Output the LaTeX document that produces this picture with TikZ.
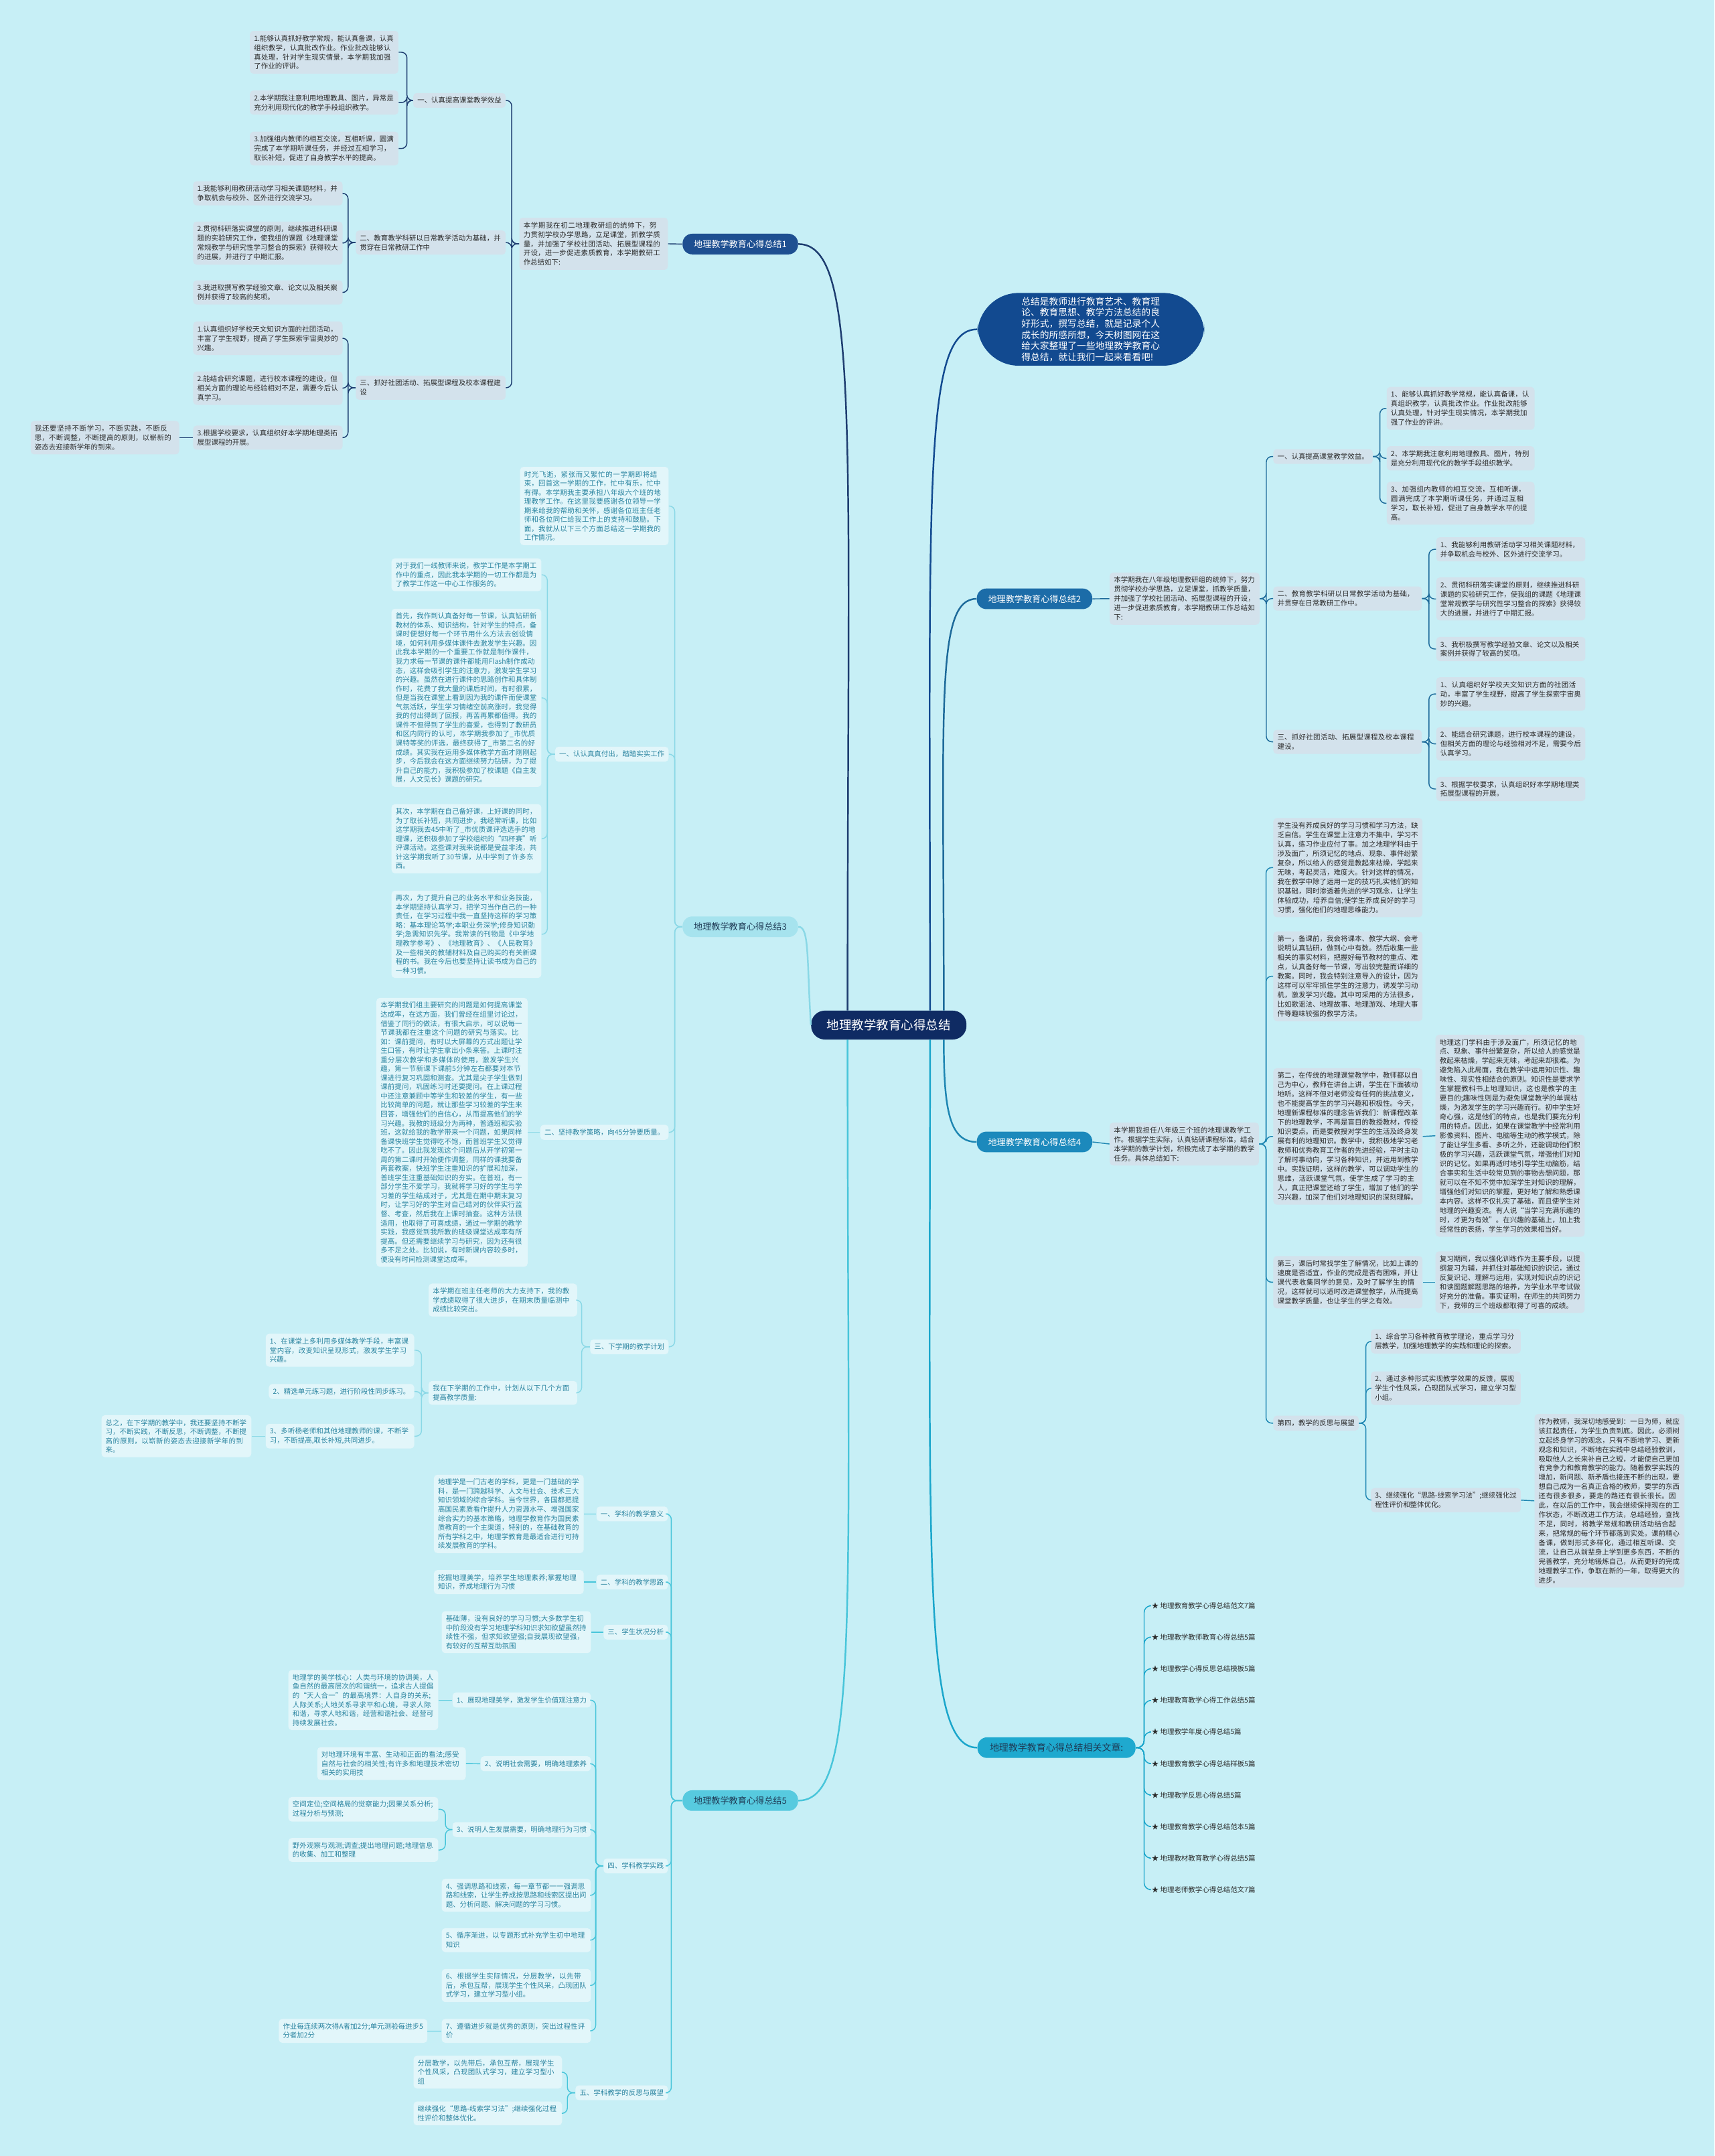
\documentclass[tikz,border=0pt]{standalone}
\usepackage{fontspec}
\setmainfont{Noto Sans CJK SC}
\XeTeXlinebreaklocale "zh"
\XeTeXlinebreakskip=0pt plus 0.6pt
\definecolor{BgCyan}{HTML}{C7EFF6}
\definecolor{RootNavy}{HTML}{0F2B63}
\definecolor{SumBlue}{HTML}{124A90}
\definecolor{LineA}{HTML}{1E3D70}
\definecolor{LineB}{HTML}{1D6A9A}
\definecolor{LineC}{HTML}{8AD8E6}
\definecolor{LineD}{HTML}{1E86B2}
\definecolor{LineE}{HTML}{48C5DA}
\definecolor{LineF}{HTML}{1AA6CB}
\definecolor{TopA}{HTML}{1E4F91}
\definecolor{TopB}{HTML}{1C6CA8}
\definecolor{TopC}{HTML}{A6E3EE}
\definecolor{TopD}{HTML}{1C89BC}
\definecolor{TopE}{HTML}{57CADF}
\definecolor{TopF}{HTML}{1FA9CF}
\definecolor{BoxGray}{HTML}{D3E2EC}
\definecolor{BoxLite}{HTML}{E2F6FA}
\definecolor{TxtDark}{HTML}{2B2B2B}
\definecolor{TxtTeal}{HTML}{2A84A0}
\definecolor{TxtNavy}{HTML}{1E3A55}
\usetikzlibrary{positioning}
\tikzset{
  gbox/.style={fill=BoxGray, text=TxtDark, rounded corners=2.5pt, inner sep=3pt, align=left, font=\fontsize{5.1}{6.8}\selectfont},
  lbox/.style={fill=BoxLite, text=TxtTeal, rounded corners=2.5pt, inner sep=3pt, align=left, font=\fontsize{5.1}{6.6}\selectfont},
  topic/.style={rounded corners=7pt, minimum width=84pt, minimum height=15pt, inner sep=2pt, font=\fontsize{6.4}{7.5}\selectfont},
  relitem/.style={text=TxtDark, inner sep=1.5pt, font=\fontsize{5.1}{6}\selectfont},
  lkA/.style={draw=LineA, line width=0.7pt, rounded corners=4pt},
  lkB/.style={draw=LineB, line width=0.7pt, rounded corners=4pt},
  lkC/.style={draw=LineC, line width=0.7pt, rounded corners=4pt},
  lkD/.style={draw=LineD, line width=0.7pt, rounded corners=4pt},
  lkE/.style={draw=LineE, line width=0.7pt, rounded corners=4pt},
  lkF/.style={draw=LineF, line width=0.7pt, rounded corners=5pt},
  trunk/.style={line width=1.2pt},
}
\begin{document}
\begin{tikzpicture}[x=1pt, y=-1pt]
  \useasboundingbox (0,0) rectangle (1247,1568);
  \fill[BgCyan] (0,0) rectangle (1247,1568);

  \node[fill=RootNavy, text=white, rounded corners=10pt, minimum width=113pt, minimum height=21pt, font=\fontsize{9}{10}\selectfont] (root) at (646.5,745.5) {地理教学教育心得总结};

  \node[fill=SumBlue, text=white, rounded corners=30pt, text width=101pt, align=left, inner xsep=32pt, inner ysep=3pt, font=\fontsize{6.7}{8.1}\selectfont] (summ) at (793.5,239.5) {总结是教师进行教育艺术、教育理论、教育思想、教学方法总结的良好形式，撰写总结，就是记录个人成长的所感所想，今天树图网在这给大家整理了一些地理教学教育心得总结，就让我们一起来看看吧!};

  \node[topic, fill=TopA, text=white] (b1) at (538.5,177.5) {地理教学教育心得总结1};
  \node[topic, fill=TopB, text=white] (b2) at (752.5,435.5) {地理教学教育心得总结2};
  \node[topic, fill=TopC, text=TxtNavy] (b3) at (538.5,674) {地理教学教育心得总结3};
  \node[topic, fill=TopD, text=white] (b4) at (752.5,830.5) {地理教学教育心得总结4};
  \node[topic, fill=TopE, text=TxtNavy] (b5) at (538.5,1309.5) {地理教学教育心得总结5};
  \node[topic, fill=TopF, text=TxtNavy, minimum width=115pt, font=\fontsize{6.8}{8}\selectfont] (brel) at (768.5,1271) {地理教学教育心得总结相关文章:};

  % branch 1
  \node[gbox, text width=102pt, anchor=east] (p1) at (486,177.3) {本学期我在初二地理教研组的统帅下，努力贯彻学校办学思路，立足课堂，抓教学质量，并加强了学校社团活动、拓展型课程的开设，进一步促进素质教育，本学期教研工作总结如下:};
  \node[gbox, anchor=east] (s11) at (368,73) {一、认真提高课堂教学效益};
  \node[gbox, text width=103pt, anchor=east] (s12) at (368,176.4) {二、教育教学科研以日常教学活动为基础，并贯穿在日常教研工作中};
  \node[gbox, text width=103pt, anchor=east] (s13) at (368,282) {三、抓好社团活动、拓展型课程及校本课程建设};
  \node[gbox, text width=102pt, anchor=east] (a111) at (290,38) {1.能够认真抓好教学常规，能认真备课，认真组织教学，认真批改作业。作业批改能够认真处理，针对学生现实情景，本学期我加强了作业的评讲。};
  \node[gbox, text width=102pt, anchor=east] (a112) at (290,74.6) {2.本学期我注意利用地理教具、图片，异常是充分利用现代化的教学手段组织教学。};
  \node[gbox, text width=102pt, anchor=east] (a113) at (290,108) {3.加强组内教师的相互交流，互相听课，圆满完成了本学期听课任务，并经过互相学习，取长补短，促进了自身教学水平的提高。};
  \node[gbox, text width=102.7pt, anchor=east] (a121) at (249.4,140.6) {1.我能够利用教研活动学习相关课题材料，并争取机会与校外、区外进行交流学习。};
  \node[gbox, text width=102.7pt, anchor=east] (a122) at (249.4,176.8) {2.贯彻科研落实课堂的原则，继续推进科研课题的实验研究工作，使我组的课题《地理课堂常规教学与研究性学习整合的探索》获得较大的进展，并进行了中期汇报。};
  \node[gbox, text width=102.7pt, anchor=east] (a123) at (249.4,212.7) {3.我进取撰写教学经验文章、论文以及相关案例并获得了较高的奖项。};
  \node[gbox, text width=102.7pt, anchor=east] (a131) at (249.4,246) {1.认真组织好学校天文知识方面的社团活动，丰富了学生视野，提高了学生探索宇宙奥妙的兴趣。};
  \node[gbox, text width=102.7pt, anchor=east] (a132) at (249.4,282.3) {2.能结合研究课题，进行校本课程的建设，但相关方面的理论与经验相对不足，需要今后认真学习。};
  \node[gbox, text width=102.7pt, anchor=east] (a133) at (249.4,318.3) {3.根据学校要求，认真组织好本学期地理类拓展型课程的开展。};
  \node[gbox, text width=102pt, anchor=east] (z13) at (130.5,318.3) {我还要坚持不断学习，不断实践，不断反思，不断调整，不断提高的原则，以崭新的姿态去迎接新学年的到来。};

  % branch 2
  \node[gbox, text width=103pt, anchor=west] (p2) at (807,435.4) {本学期我在八年级地理教研组的统帅下，努力贯彻学校办学思路，立足课堂，抓教学质量，并加强了学校社团活动、拓展型课程的开设，进一步促进素质教育，本学期教研工作总结如下:};
  \node[gbox, anchor=west] (s21) at (926,332) {一、认真提高课堂教学效益。};
  \node[gbox, text width=102pt, anchor=west] (s22) at (926,435.3) {二、教育教学科研以日常教学活动为基础，并贯穿在日常教研工作中。};
  \node[gbox, text width=102pt, anchor=west] (s23) at (926,539.5) {三、抓好社团活动、拓展型课程及校本课程建设。};
  \node[gbox, text width=101.5pt, anchor=west] (a211) at (1008.5,297) {1、能够认真抓好教学常规，能认真备课，认真组织教学，认真批改作业。作业批改能够认真处理，针对学生现实情况，本学期我加强了作业的评讲。};
  \node[gbox, text width=101.5pt, anchor=west] (a212) at (1008.5,333.3) {2、本学期我注意利用地理教具、图片，特别是充分利用现代化的教学手段组织教学。};
  \node[gbox, text width=101.5pt, anchor=west] (a213) at (1008.5,366) {3、加强组内教师的相互交流，互相听课，圆满完成了本学期听课任务，并通过互相学习，取长补短，促进了自身教学水平的提高。};
  \node[gbox, text width=102.5pt, anchor=west] (a221) at (1044.5,399.5) {1、我能够利用教研活动学习相关课题材料，并争取机会与校外、区外进行交流学习。};
  \node[gbox, text width=102.5pt, anchor=west] (a222) at (1044.5,435.6) {2、贯彻科研落实课堂的原则，继续推进科研课题的实验研究工作，使我组的课题《地理课堂常规教学与研究性学习整合的探索》获得较大的进展，并进行了中期汇报。};
  \node[gbox, text width=102.5pt, anchor=west] (a223) at (1044.5,472) {3、我积极撰写教学经验文章、论文以及相关案例并获得了较高的奖项。};
  \node[gbox, text width=102.5pt, anchor=west] (a231) at (1044.5,504.7) {1、认真组织好学校天文知识方面的社团活动，丰富了学生视野，提高了学生探索宇宙奥妙的兴趣。};
  \node[gbox, text width=102.5pt, anchor=west] (a232) at (1044.5,541) {2、能结合研究课题，进行校本课程的建设，但相关方面的理论与经验相对不足，需要今后认真学习。};
  \node[gbox, text width=102.5pt, anchor=west] (a233) at (1044.5,573.8) {3、根据学校要求，认真组织好本学期地理类拓展型课程的开展。};

  % branch 3
  \node[lbox, text width=102pt, anchor=east] (t0) at (486.5,368) {时光飞逝，紧张而又繁忙的一学期即将结束，回首这一学期的工作，忙中有乐，忙中有得。本学期我主要承担八年级六个班的地理教学工作。在这里我要感谢各位领导一学期来给我的帮助和关怀，感谢各位班主任老师和各位同仁给我工作上的支持和鼓励。下面，我就从以下三个方面总结这一学期我的工作情况。};
  \node[lbox, anchor=east] (t1) at (486.5,548.5) {一、认认真真付出，踏踏实实工作};
  \node[lbox, anchor=east] (t2) at (486.5,823.5) {二、坚持教学策略，向45分钟要质量。};
  \node[lbox, anchor=east] (t3) at (486.5,979.5) {三、下学期的教学计划};
  \node[lbox, text width=103pt, anchor=east] (c31) at (394,418) {对于我们一线教师来说，教学工作是本学期工作中的重点，因此我本学期的一切工作都是为了教学工作这一中心工作服务的。};
  \node[lbox, text width=103pt, anchor=east] (c32) at (394,507.5) {首先，我作到认真备好每一节课，认真钻研新教材的体系、知识结构，针对学生的特点，备课时便想好每一个环节用什么方法去创设情境，如何利用多媒体课件去激发学生兴趣。因此我本学期的一个重要工作就是制作课件，我力求每一节课的课件都能用Flash制作成动态，这样会吸引学生的注意力，激发学生学习的兴趣。虽然在进行课件的思路创作和具体制作时，花费了我大量的课后时间，有时很累，但是当我在课堂上看到因为我的课件而使课堂气氛活跃，学生学习情绪空前高涨时，我觉得我的付出得到了回报，再苦再累都值得。我的课件不但得到了学生的喜爱，也得到了教研员和区内同行的认可，本学期我参加了\_市优质课特等奖的评选，最终获得了\_市第二名的好成绩。其实我在运用多媒体教学方面才刚刚起步，今后我会在这方面继续努力钻研，为了提升自己的能力，我积极参加了校课题《自主发展，人文见长》课题的研究。};
  \node[lbox, text width=103pt, anchor=east] (c33) at (394,610) {其次，本学期在自己备好课，上好课的同时，为了取长补短，共同进步，我经常听课，比如这学期我去45中听了\_市优质课评选选手的地理课，还积极参加了学校组织的“四杯赛”听评课活动。这些课对我来说都是受益非浅，共计这学期我听了30节课，从中学到了许多东西。};
  \node[lbox, text width=103pt, anchor=east] (c34) at (394,679.5) {再次，为了提升自己的业务水平和业务技能，本学期坚持认真学习，把学习当作自己的一种责任，在学习过程中我一直坚持这样的学习策略：基本理论笃学;本职业务深学;修身知识勤学;急需知识先学。我常读的刊物是《中学地理教学参考》、《地理教育》、《人民教育》及一些相关的教辅材料及自己购买的有关新课程的书。我在今后也要坚持让读书成为自己的一种习惯。};
  \node[lbox, text width=104pt, anchor=east] (c35) at (384,823.5) {本学期我们组主要研究的问题是如何提高课堂达成率，在这方面，我们曾经在组里讨论过，借鉴了同行的做法，有很大启示，可以说每一节课我都在注重这个问题的研究与落实。比如：课前提问，有时以大屏幕的方式出题让学生口答，有时让学生拿出小条来答。上课时注重分层次教学和多媒体的使用，激发学生兴趣，第一节新课下课前5分钟左右都要对本节课进行复习巩固和测查。尤其是尖子学生做到课前提问，巩固练习时还要提问。在上课过程中还注意兼顾中等学生和较差的学生，有一些比较简单的问题，就让那些学习较差的学生来回答，增强他们的自信心，从而提高他们的学习兴趣。我教的班级分为两种，普通班和实验班，这就给我的教学带来一个问题，如果同样备课快班学生觉得吃不饱，而普班学生又觉得吃不了。因此我发现这个问题后从开学初第一周的第二课时开始便作调整，同样的课我要备两套教案，快班学生注重知识的扩展和加深，普班学生注重基础知识的夯实。在普班，有一部分学生不爱学习，我就将学习好的学生与学习差的学生结成对子，尤其是在期中期末复习时，让学习好的学生对自己结对的伙伴实行监督、考查，然后我在上课时抽查。这种方法很适用，也取得了可喜成绩，通过一学期的教学实践，我感觉到我所教的班级课堂达成率有所提高。但还需要继续学习与研究，因为还有很多不足之处。比如说，有时新课内容较多时，便没有时间检测课堂达成率。};
  \node[lbox, text width=102pt, anchor=east] (c36) at (420,945.5) {本学期在班主任老师的大力支持下，我的教学成绩取得了很大进步，在期末质量临测中成绩比较突出。};
  \node[lbox, text width=102pt, anchor=east] (c37) at (420,1013) {我在下学期的工作中，计划从以下几个方面提高教学质量:};
  \node[lbox, text width=102pt, anchor=east] (d1) at (301.5,982) {1、在课堂上多利用多媒体教学手段，丰富课堂内容，改变知识呈现形式，激发学生学习兴趣。};
  \node[lbox, anchor=east] (d2) at (301.5,1012) {2、精选单元练习题，进行阶段性同步练习。};
  \node[lbox, text width=102pt, anchor=east] (d3) at (301.5,1044.5) {3、多听杨老师和其他地理教师的课，不断学习，不断提高,取长补短,共同进步。};
  \node[lbox, text width=103pt, anchor=east] (z3) at (183,1044.5) {总之，在下学期的教学中，我还要坚持不断学习，不断实践，不断反思，不断调整，不断提高的原则，以崭新的姿态去迎接新学年的到来。};

  % branch 4
  \node[gbox, text width=102.5pt, anchor=west] (p4) at (807,832) {本学期我担任八年级三个班的地理课教学工作。根据学生实际，认真钻研课程标准，结合本学期的教学计划，积极完成了本学期的教学任务。具体总结如下:};
  \node[gbox, text width=102.5pt, anchor=west] (q1) at (926,631) {学生没有养成良好的学习习惯和学习方法，缺乏自信。学生在课堂上注意力不集中，学习不认真，练习作业应付了事。加之地理学科由于涉及面广，所须记忆的地点、现象、事件纷繁复杂，所以给人的感觉是教起来枯燥，学起来无味，考起灵活，难度大。针对这样的情况，我在教学中除了运用一定的技巧扎实他们的知识基础，同时渗透着先进的学习观念，让学生体验成功，培养自信;使学生养成良好的学习习惯，强化他们的地理思维能力。};
  \node[gbox, text width=102.5pt, anchor=west] (q2) at (926,710) {第一，备课前，我会将课本、教学大纲、会考说明认真钻研，做到心中有数。然后收集一些相关的事实材料，把握好每节教材的重点、难点，认真备好每一节课，写出较完整而详细的教案。同时，我会特别注意导入的设计，因为这样可以牢牢抓住学生的注意力，诱发学习动机，激发学习兴趣。其中可采用的方法很多，比如歌谣法、地理故事、地理游戏、地理大事件等趣味较强的教学方法。};
  \node[gbox, text width=102.5pt, anchor=west] (q3) at (926,826.5) {第二，在传统的地理课堂教学中，教师都以自己为中心，教师在讲台上讲，学生在下面被动地听。这样不但对老师没有任何的挑战意义，也不能提高学生的学习兴趣和积极性。今天，地理新课程标准的理念告诉我们：新课程改革下的地理教学，不再是盲目的教授教材，传授知识要点。而是要教授对学生的生活及终身发展有利的地理知识。教学中，我积极地学习老教师和优秀教育工作者的先进经验，平时主动了解时事动向，学习各种知识，并运用到教学中。实践证明，这样的教学，可以调动学生的思维，活跃课堂气氛，使学生成了学习的主人，真正把课堂还给了学生，增加了他们的学习兴趣，加深了他们对地理知识的深刻理解。};
  \node[gbox, text width=102.5pt, anchor=west] (q3c) at (1044,826) {地理这门学科由于涉及面广，所须记忆的地点、现象、事件纷繁复杂，所以给人的感觉是教起来枯燥，学起来无味，考起来却很难。为避免陷入此局面，我在教学中运用知识性、趣味性、现实性相结合的原则。知识性是要求学生掌握教科书上地理知识，这也是教学的主要目的;趣味性则是为避免课堂教学的单调枯燥，为激发学生的学习兴趣而行。初中学生好奇心强，这是他们的特点，也是我们要充分利用的特点。因此，如果在课堂教学中经常利用影像资料、图片、电脑等生动的教学模式，除了能让学生多看、多听之外，还能调动他们积极的学习兴趣，活跃课堂气氛，增强他们对知识的记忆。如果再适时地引导学生动脑筋，结合事实和生活中较常见到的事物去想问题，那就可以在不知不觉中加深学生对知识的理解，增强他们对知识的掌握，更好地了解和熟悉课本内容。这样不仅扎实了基础，而且使学生对地理的兴趣变浓。有人说“当学习充满乐趣的时，才更为有效”。在兴趣的基础上，加上我经常性的表扬，学生学习的效果相当好。};
  \node[gbox, text width=102.5pt, anchor=west] (q4) at (926,932.5) {第三，课后时常找学生了解情况，比如上课的速度是否适宜，作业的完成是否有困难，并让课代表收集同学的意见，及时了解学生的情况，这样就可以适时改进课堂教学，从而提高课堂教学质量，也让学生的学之有效。};
  \node[gbox, text width=102.5pt, anchor=west] (q4c) at (1044,932.5) {复习期间，我以强化训练作为主要手段，以提纲复习为辅，并抓住对基础知识的识记，通过反复识记、理解与运用，实现对知识点的识记和读图题解题思路的培养，为学业水平考试做好充分的准备。事实证明，在师生的共同努力下，我带的三个班级都取得了可喜的成绩。};
  \node[gbox, anchor=west] (q5) at (926,1035) {第四，教学的反思与展望};
  \node[gbox, text width=103pt, anchor=west] (e1) at (997,975.5) {1、综合学习各种教育教学理论，重点学习分层教学，加强地理教学的实践和理论的探索。};
  \node[gbox, text width=103pt, anchor=west] (e2) at (997,1009.6) {2、通过多种形式实现教学效果的反馈，展现学生个性风采，凸现团队式学习，建立学习型小组。};
  \node[gbox, text width=103pt, anchor=west] (e3) at (997,1091) {3、继续强化“思路-线索学习法”;继续强化过程性评价和整体优化。};
  \node[gbox, text width=103pt, anchor=west] (e3c) at (1116,1091.5) {作为教师，我深切地感受到：一日为师，就应该扛起责任，为学生负责到底。因此，必须树立起终身学习的观念，只有不断地学习、更新观念和知识，不断地在实践中总结经验教训，吸取他人之长来补自己之短，才能使自己更加有竞争力和教育教学的能力。随着教学实践的增加，新问题、新矛盾也接连不断的出现，要想自己成为一名真正合格的教师，要学的东西还有很多很多，要走的路还有很长很长。因此，在以后的工作中，我会继续保持现在的工作状态，不断改进工作方法，总结经验，查找不足，同时，将教学常规和教研活动结合起来，把常规的每个环节都落到实处。课前精心备课，做到形式多样化，通过相互听课、交流，让自己从前辈身上学到更多东西，不断的完善教学，充分地锻炼自己，从而更好的完成地理教学工作，争取在新的一年，取得更大的进步。};

  % related articles
  \node[relitem, anchor=west] (r1) at (836,1167.8) {★ 地理教育教学心得总结范文7篇};
  \node[relitem, anchor=west] (r2) at (836,1190.6) {★ 地理教学教师教育心得总结5篇};
  \node[relitem, anchor=west] (r3) at (836,1213.6) {★ 地理教学心得反思总结模板5篇};
  \node[relitem, anchor=west] (r4) at (836,1236.7) {★ 地理教育教学心得工作总结5篇};
  \node[relitem, anchor=west] (r5) at (836,1259.6) {★ 地理教学年度心得总结5篇};
  \node[relitem, anchor=west] (r6) at (836,1282.6) {★ 地理教育教学心得总结样板5篇};
  \node[relitem, anchor=west] (r7) at (836,1305.5) {★ 地理教学反思心得总结5篇};
  \node[relitem, anchor=west] (r8) at (836,1328.4) {★ 地理教育教学心得总结范本5篇};
  \node[relitem, anchor=west] (r9) at (836,1351.4) {★ 地理教材教育教学心得总结5篇};
  \node[relitem, anchor=west] (r10) at (836,1374.3) {★ 地理老师教学心得总结范文7篇};

  % branch 5
  \node[lbox, anchor=east] (u1) at (486,1101) {一、学科的教学意义};
  \node[lbox, anchor=east] (u2) at (486,1150.6) {二、学科的教学思路};
  \node[lbox, anchor=east] (u3) at (486,1187) {三、学生状况分析};
  \node[lbox, anchor=east] (u4) at (486,1357) {四、学科教学实践};
  \node[lbox, anchor=east] (u5) at (486,1522) {五、学科教学的反思与展望};
  \node[lbox, text width=103pt, anchor=east] (f1) at (424.8,1101) {地理学是一门古老的学科，更是一门基础的学科，是一门跨越科学、人文与社会、技术三大知识领域的综合学科。当今世界，各国都把提高国民素质看作提升人力资源水平、增强国家综合实力的基本策略，地理学教育作为国民素质教育的一个主渠道，特别的，在基础教育的所有学科之中，地理学教育是最适合进行可持续发展教育的学科。};
  \node[lbox, text width=103pt, anchor=east] (f2) at (424.8,1150.6) {挖掘地理美学，培养学生地理素养;掌握地理知识，养成地理行为习惯};
  \node[lbox, text width=102.5pt, anchor=east] (f3) at (430,1187) {基础薄，没有良好的学习习惯;大多数学生初中阶段没有学习地理学科知识求知欲望虽然持续性不强，但求知欲望强;自我展现欲望强，有较好的互帮互助氛围};
  \node[lbox, anchor=east] (g1) at (430,1236.4) {1、展现地理美学，激发学生价值观注意力};
  \node[lbox, text width=103pt, anchor=east] (g1c) at (319,1236.4) {地理学的美学核心：人类与环境的协调美，人鱼自然的最高层次的和谐统一，追求古人提倡的“天人合一”的最高境界：人自身的关系;人际关系;人地关系寻求平和心境，寻求人际和谐，寻求人地和谐，经营和谐社会、经营可持续发展社会。};
  \node[lbox, anchor=east] (g2) at (430,1282.7) {2、说明社会需要，明确地理素养};
  \node[lbox, text width=102pt, anchor=east] (g2c) at (339,1282.6) {对地理环境有丰富、生动和正面的看法;感受自然与社会的相关性;有许多和地理技术密切相关的实用技};
  \node[lbox, anchor=east] (g3) at (430,1330.6) {3、说明人生发展需要，明确地理行为习惯};
  \node[lbox, text width=103pt, anchor=east] (g3a) at (319,1315.8) {空间定位;空间格局的觉察能力;因果关系分析;过程分析与预测;};
  \node[lbox, text width=103pt, anchor=east] (g3b) at (319,1345.4) {野外观察与观测;调查;提出地理问题;地理信息的收集、加工和整理};
  \node[lbox, text width=102.5pt, anchor=east] (g4) at (430,1378.4) {4、强调思路和线索，每一章节都一一强调思路和线索，让学生养成按思路和线索区提出问题、分析问题、解决问题的学习习惯。};
  \node[lbox, text width=102.5pt, anchor=east] (g5) at (430,1411) {5、循序渐进，以专题形式补充学生初中地理知识};
  \node[lbox, text width=102.5pt, anchor=east] (g6) at (430,1444) {6、根据学生实际情况，分层教学，以先带后，承包互帮，展现学生个性风采，凸现团队式学习，建立学习型小组。};
  \node[lbox, text width=102.5pt, anchor=east] (g7) at (430,1477) {7、遵循进步就是优秀的原则，突出过程性评价};
  \node[lbox, text width=102pt, anchor=east] (g7c) at (311,1477) {作业每连续两次得A者加2分;单元测验每进步5分者加2分};
  \node[lbox, text width=102pt, anchor=east] (h1) at (409,1507) {分层教学，以先带后，承包互帮，展现学生个性风采，凸现团队式学习，建立学习型小组};
  \node[lbox, text width=102pt, anchor=east] (h2) at (409,1537) {继续强化“思路-线索学习法”;继续强化过程性评价和整体优化。};

  % trunks from the root
  \draw[lkA, trunk] ([xshift=-30pt]root.north) .. controls +(0,-420) and +(45,0) .. (b1.east);
  \draw[lkC, trunk] (root.west) .. controls +(-3,-50) and +(8,0) .. (b3.east);
  \draw[lkE, trunk] ([xshift=-30pt]root.south) .. controls +(0,420) and +(45,0) .. (b5.east);
  \draw[draw=SumBlue, trunk] ([xshift=30pt]root.north) .. controls +(0,-380) and +(-40,0) .. (summ.west);
  \draw[lkB, trunk] ([xshift=40pt]root.north) .. controls +(0,-220) and +(-30,0) .. (b2.west);
  \draw[lkD, trunk] ([xshift=40pt]root.south) .. controls +(0,50) and +(-20,0) .. (b4.west);
  \draw[lkF, trunk] ([xshift=30pt]root.south) .. controls +(0,380) and +(-40,0) .. (brel.west);

  \draw[lkA] (b1.west) -- (p1.east);
  \draw[lkA] (p1.west) -- ++(-5.4,0) |- (s11.east);
  \draw[lkA] (p1.west) -- ++(-5.4,0) |- (s12.east);
  \draw[lkA] (p1.west) -- ++(-5.4,0) |- (s13.east);
  \draw[lkA] (s11.west) -- ++(-4.4,0) |- (a111.east);
  \draw[lkA] (s11.west) -- ++(-4.4,0) |- (a112.east);
  \draw[lkA] (s11.west) -- ++(-4.4,0) |- (a113.east);
  \draw[lkA] (s12.west) -- ++(-5.4,0) |- (a121.east);
  \draw[lkA] (s12.west) -- ++(-5.4,0) |- (a122.east);
  \draw[lkA] (s12.west) -- ++(-5.4,0) |- (a123.east);
  \draw[lkA] (s13.west) -- ++(-5.4,0) |- (a131.east);
  \draw[lkA] (s13.west) -- ++(-5.4,0) |- (a132.east);
  \draw[lkA] (s13.west) -- ++(-5.4,0) |- (a133.east);
  \draw[lkA] (a133.west) -- (z13.east);

  \draw[lkB] (b2.east) -- (p2.west);
  \draw[lkB] (p2.east) -- ++(4.7,0) |- (s21.west);
  \draw[lkB] (p2.east) -- ++(4.7,0) |- (s22.west);
  \draw[lkB] (p2.east) -- ++(4.7,0) |- (s23.west);
  \draw[lkB] (s21.east) -- ++(5,0) |- (a211.west);
  \draw[lkB] (s21.east) -- ++(5,0) |- (a212.west);
  \draw[lkB] (s21.east) -- ++(5,0) |- (a213.west);
  \draw[lkB] (s22.east) -- ++(5,0) |- (a221.west);
  \draw[lkB] (s22.east) -- ++(5,0) |- (a222.west);
  \draw[lkB] (s22.east) -- ++(5,0) |- (a223.west);
  \draw[lkB] (s23.east) -- ++(5,0) |- (a231.west);
  \draw[lkB] (s23.east) -- ++(5,0) |- (a232.west);
  \draw[lkB] (s23.east) -- ++(5,0) |- (a233.west);

  \draw[lkC] (b3.west) -- ++(-5.5,0) |- (t0.east);
  \draw[lkC] (b3.west) -- ++(-5.5,0) |- (t1.east);
  \draw[lkC] (b3.west) -- ++(-5.5,0) |- (t2.east);
  \draw[lkC] (b3.west) -- ++(-5.5,0) |- (t3.east);
  \draw[lkC] (t1.west) -- ++(-5.5,0) |- (c31.east);
  \draw[lkC] (t1.west) -- ++(-5.5,0) |- (c32.east);
  \draw[lkC] (t1.west) -- ++(-5.5,0) |- (c33.east);
  \draw[lkC] (t1.west) -- ++(-5.5,0) |- (c34.east);
  \draw[lkC] (t2.west) -- (c35.east);
  \draw[lkC] (t3.west) -- ++(-6,0) |- (c36.east);
  \draw[lkC] (t3.west) -- ++(-6,0) |- (c37.east);
  \draw[lkC] (c37.west) -- ++(-5,0) |- (d1.east);
  \draw[lkC] (c37.west) -- ++(-5,0) |- (d2.east);
  \draw[lkC] (c37.west) -- ++(-5,0) |- (d3.east);
  \draw[lkC] (d3.west) -- (z3.east);

  \draw[lkD] (b4.east) -- (p4.west);
  \draw[lkD] (p4.east) -- ++(5,0) |- (q1.west);
  \draw[lkD] (p4.east) -- ++(5,0) |- (q2.west);
  \draw[lkD] (p4.east) -- ++(5,0) |- (q3.west);
  \draw[lkD] (p4.east) -- ++(5,0) |- (q4.west);
  \draw[lkD] (p4.east) -- ++(5,0) |- (q5.west);
  \draw[lkD] (q3.east) -- (q3c.west);
  \draw[lkD] (q4.east) -- (q4c.west);
  \draw[lkD] (q5.east) -- ++(5,0) |- (e1.west);
  \draw[lkD] (q5.east) -- ++(5,0) |- (e2.west);
  \draw[lkD] (q5.east) -- ++(5,0) |- (e3.west);
  \draw[lkD] (e3.east) -- (e3c.west);

  \draw[lkF] (brel.east) -- ++(6,0) |- (r1.west);
  \draw[lkF] (brel.east) -- ++(6,0) |- (r2.west);
  \draw[lkF] (brel.east) -- ++(6,0) |- (r3.west);
  \draw[lkF] (brel.east) -- ++(6,0) |- (r4.west);
  \draw[lkF] (brel.east) -- ++(6,0) |- (r5.west);
  \draw[lkF] (brel.east) -- ++(6,0) |- (r6.west);
  \draw[lkF] (brel.east) -- ++(6,0) |- (r7.west);
  \draw[lkF] (brel.east) -- ++(6,0) |- (r8.west);
  \draw[lkF] (brel.east) -- ++(6,0) |- (r9.west);
  \draw[lkF] (brel.east) -- ++(6,0) |- (r10.west);

  \draw[lkE] (b5.west) -- ++(-8,0) |- (u1.east);
  \draw[lkE] (b5.west) -- ++(-8,0) |- (u2.east);
  \draw[lkE] (b5.west) -- ++(-8,0) |- (u3.east);
  \draw[lkE] (b5.west) -- ++(-8,0) |- (u4.east);
  \draw[lkE] (b5.west) -- ++(-8,0) |- (u5.east);
  \draw[lkE] (u1.west) -- (f1.east);
  \draw[lkE] (u2.west) -- (f2.east);
  \draw[lkE] (u3.west) -- (f3.east);
  \draw[lkE] (u4.west) -- ++(-5.5,0) |- (g1.east);
  \draw[lkE] (u4.west) -- ++(-5.5,0) |- (g2.east);
  \draw[lkE] (u4.west) -- ++(-5.5,0) |- (g3.east);
  \draw[lkE] (u4.west) -- ++(-5.5,0) |- (g4.east);
  \draw[lkE] (u4.west) -- ++(-5.5,0) |- (g5.east);
  \draw[lkE] (u4.west) -- ++(-5.5,0) |- (g6.east);
  \draw[lkE] (u4.west) -- ++(-5.5,0) |- (g7.east);
  \draw[lkE] (g1.west) -- (g1c.east);
  \draw[lkE] (g2.west) -- (g2c.east);
  \draw[lkE] (g3.west) -- ++(-5,0) |- (g3a.east);
  \draw[lkE] (g3.west) -- ++(-5,0) |- (g3b.east);
  \draw[lkE] (g7.west) -- (g7c.east);
  \draw[lkE] (u5.west) -- ++(-5.7,0) |- (h1.east);
  \draw[lkE] (u5.west) -- ++(-5.7,0) |- (h2.east);
\end{tikzpicture}
\end{document}
